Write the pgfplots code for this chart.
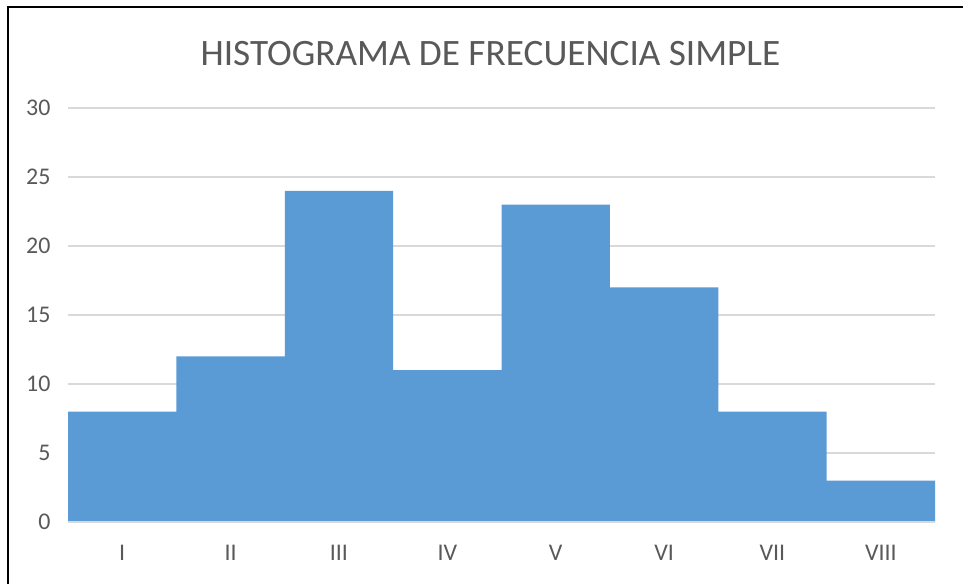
\documentclass[border=0pt]{standalone}
\usepackage{fontspec}
\setmainfont{Carlito}
\usepackage{pgfplots}
\pgfplotsset{compat=1.18}
\definecolor{barblue}{HTML}{5B9BD5}
\definecolor{txtgray}{HTML}{595959}
\definecolor{gridgray}{HTML}{D9D9D9}
\begin{document}
\begin{tikzpicture}[x=1bp,y=1bp]
\useasboundingbox (0,0) rectangle (963,584);
\fill[white] (0,0) rectangle (963,584);
\begin{axis}[
  at={(68bp,62bp)}, anchor=origin,
  scale only axis, width=867bp, height=414bp,
  xmin=0, xmax=8, ymin=0, ymax=30,
  ytick={0,5,...,30},
  xtick={0.5,1.5,...,7.5},
  xticklabels={I,II,III,IV,V,VI,VII,VIII},
  axis line style={draw=none},
  major tick length=0pt,
  ymajorgrids, grid style={gridgray, line width=1.5bp},
  tick label style={font=\fontsize{24}{28}\selectfont, text=txtgray},
  /pgf/number format/assume math mode=true,
  yticklabel style={xshift=-14bp},
  xticklabel style={yshift=-20bp},
  clip=false,
]
\addplot[ybar interval, fill=barblue, draw=none] coordinates {
(0,8) (1,12) (2,24) (3,11) (4,23) (5,17) (6,8) (7,3) (8,3)};
\draw[gridgray, line width=1.5bp] (axis cs:0,0) -- (axis cs:8,0);
\end{axis}
\node[text=txtgray, font=\fontsize{37.4}{44}\selectfont, anchor=base] at (490.5bp,518bp) {HISTOGRAMA DE FRECUENCIA SIMPLE};
\draw[black, line width=2bp] (8,0) -- (8,577) -- (963,577);
\end{tikzpicture}
\end{document}
